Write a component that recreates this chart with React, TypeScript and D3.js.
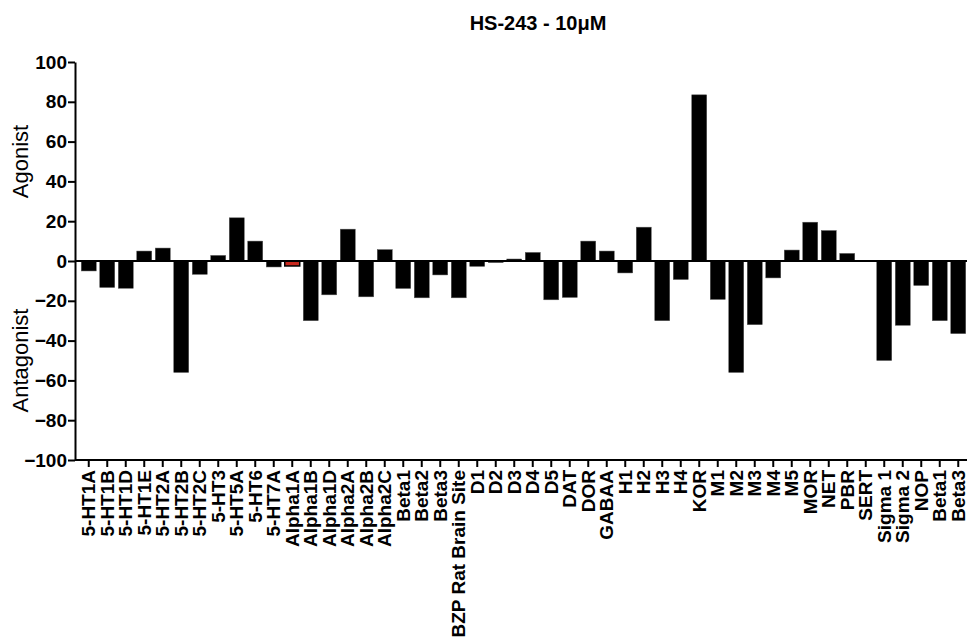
import React, { useEffect, useRef } from 'react';
import * as d3 from 'd3';

// receptor targets, left to right
const targets = [
  '5-HT1A', '5-HT1B', '5-HT1D', '5-HT1E', '5-HT2A', '5-HT2B', '5-HT2C', '5-HT3',
  '5-HT5A', '5-HT6', '5-HT7A', 'Alpha1A', 'Alpha1B', 'Alpha1D', 'Alpha2A', 'Alpha2B',
  'Alpha2C', 'Beta1', 'Beta2', 'Beta3', 'BZP Rat Brain Site', 'D1', 'D2', 'D3',
  'D4', 'D5', 'DAT', 'DOR', 'GABAA', 'H1', 'H2', 'H3',
  'H4', 'KOR', 'M1', 'M2', 'M3', 'M4', 'M5', 'MOR',
  'NET', 'PBR', 'SERT', 'Sigma 1', 'Sigma 2', 'NOP', 'Beta1 ', 'Beta3 ',
];

// % response at 10uM (positive = agonist, negative = antagonist)
const responses = [
  -5, -13.3, -13.7, 5, 6.5, -56, -6.7, 2.8,
  21.7, 10, -3, -2.5, -30, -17, 16, -18,
  5.7, -13.8, -18.5, -7, -18.5, -2.7, -0.8, 1,
  4.3, -19.5, -18.3, 10, 5, -6, 17, -30,
  -9.3, 83.5, -19.3, -56, -32, -8.5, 5.5, 19.5,
  15.3, 3.8, 0, -50, -32.3, -12.3, -30, -36.5,
];

const highlighted = ['Alpha1A'];
const yTicks = [-100, -80, -60, -40, -20, 0, 20, 40, 60, 80, 100];

export default function App() {
  const ref = useRef<SVGSVGElement>(null);

  useEffect(() => {
    const svg = d3.select(ref.current);
    svg.selectAll('*').remove();

    const font = 'Arial, "Liberation Sans", sans-serif';
    const left = 75, right = 967, top = 62, bottom = 460;

    const x = d3.scaleBand<string>()
      .domain(targets)
      .range([79.5, 79.5 + 18.5 * targets.length])
      .paddingInner(0.19)
      .paddingOuter(0.095);

    const y = d3.scaleLinear().domain([-100, 100]).range([bottom, top]);

    svg.append('text')
      .attr('x', 538).attr('y', 30)
      .attr('text-anchor', 'middle')
      .attr('font-family', font).attr('font-weight', 'bold').attr('font-size', 20)
      .text('HS-243 - 10\u03bcM');

    // bars
    svg.append('g').selectAll('rect')
      .data(responses)
      .enter()
      .append('rect')
      .attr('x', (d, i) => x(targets[i]) as number)
      .attr('width', x.bandwidth())
      .attr('y', d => y(Math.max(0, d)))
      .attr('height', d => Math.abs(y(d) - y(0)))
      .attr('fill', (d, i) => highlighted.includes(targets[i]) ? '#c8281e' : '#000')
      .attr('stroke', (d, i) => highlighted.includes(targets[i]) ? '#000' : '#555')
      .attr('stroke-width', (d, i) => highlighted.includes(targets[i]) ? 1.5 : 0.5);

    // zero line
    svg.append('line')
      .attr('x1', left).attr('x2', right)
      .attr('y1', y(0)).attr('y2', y(0))
      .attr('stroke', '#000').attr('stroke-width', 2);

    // y axis
    const yAxis = d3.axisLeft(y).tickValues(yTicks).tickSize(7).tickPadding(1).tickSizeOuter(0);
    const gy = svg.append('g').attr('transform', `translate(${left},0)`).call(yAxis);
    gy.select('.domain').attr('stroke-width', 2);
    gy.selectAll('.tick line').attr('stroke-width', 2);
    gy.selectAll('.tick text')
      .attr('font-family', font).attr('font-weight', 'bold').attr('font-size', 19).attr('fill', '#000');

    // x axis at the bottom
    const xAxis = d3.axisBottom(x).tickSize(7).tickSizeOuter(0);
    const gx = svg.append('g').attr('transform', `translate(0,${bottom})`).call(xAxis);
    gx.select('.domain').attr('d', `M${left},0H${right}`).attr('stroke-width', 2);
    gx.selectAll('.tick line').attr('stroke-width', 2);
    gx.selectAll('.tick text')
      .text(d => (d as string).trim())
      .attr('font-family', font).attr('font-weight', 'bold').attr('font-size', 19).attr('fill', '#000')
      .attr('text-anchor', 'end')
      .attr('transform', 'rotate(-90)')
      .attr('x', -10).attr('y', 0).attr('dy', '0.33em');

    // y axis titles
    svg.append('text')
      .attr('transform', `translate(28,${y(50)}) rotate(-90)`)
      .attr('text-anchor', 'middle')
      .attr('font-family', font).attr('font-size', 22)
      .text('Agonist');
    svg.append('text')
      .attr('transform', `translate(28,${y(-50)}) rotate(-90)`)
      .attr('text-anchor', 'middle')
      .attr('font-family', font).attr('font-size', 22)
      .text('Antagonist');
  }, []);

  return (
    <svg ref={ref} width={967} height={644}
      style={{ position: 'absolute', left: 0, top: 0, background: '#fff' }} />
  );
}
